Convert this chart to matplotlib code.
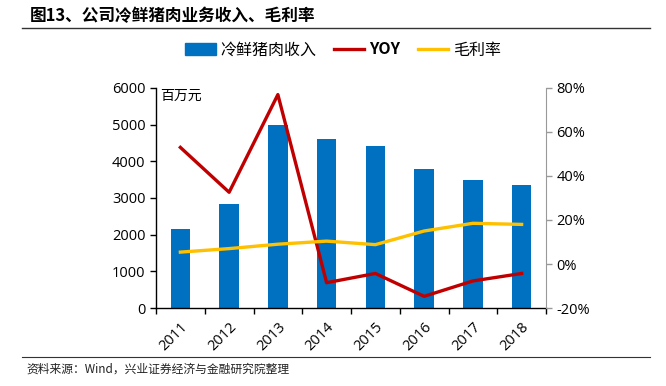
import matplotlib.pyplot as plt
import numpy as np
from matplotlib.lines import Line2D
from matplotlib.patches import Patch

plt.rcParams['font.family'] = ['Noto Sans CJK SC', 'DejaVu Sans']

years = ['2011', '2012', '2013', '2014', '2015', '2016', '2017', '2018']
revenue = [2150, 2850, 5000, 4600, 4420, 3800, 3500, 3350]
yoy = [53, 32.6, 77, -8.5, -4.3, -14.7, -7.7, -4.3]
margin = [5.4, 7.0, 9.0, 10.4, 8.8, 15.0, 18.5, 18.0]

BLUE = '#0070C0'
RED = '#C00000'
YELLOW = '#FFC000'

fig = plt.figure(figsize=(6.66, 3.86), dpi=100)
ax = fig.add_axes([156 / 666, 1 - 308 / 386, 390 / 666, 220 / 386])
ax2 = ax.twinx()

x = np.arange(len(years))
ax.bar(x, revenue, width=0.4, color=BLUE, zorder=2)
ax.set_ylim(0, 6000)
ax.set_xlim(-0.5, len(years) - 0.5)
ax.set_yticks(range(0, 6001, 1000))
ax.set_xticks(x)
ax.set_xticklabels(years, rotation=45, ha='right', rotation_mode='anchor', fontsize=10.5,
                   family='Open Sans')
ax.set_xticks(np.arange(-0.5, len(years)), minor=True)
ax.tick_params(axis='x', which='major', length=0, pad=8)
ax.tick_params(axis='x', which='minor', length=4, direction='out', width=1)
ax.tick_params(axis='y', length=4, width=1, labelsize=10.5)
for lab in ax.get_yticklabels():
    lab.set_family('Open Sans')

ax2.plot(x, yoy, color=RED, lw=2.4, zorder=3)
ax2.plot(x, margin, color=YELLOW, lw=2.4, zorder=3)
ax2.set_ylim(-20, 80)
ax2.set_yticks(range(-20, 81, 20))
ax2.set_yticklabels([f'{v}%' for v in range(-20, 81, 20)], fontsize=10.5, family='Open Sans')
ax2.tick_params(axis='y', length=4, width=1, color='#999999')

for a in (ax, ax2):
    a.spines['top'].set_visible(False)
ax.spines['right'].set_visible(False)
ax2.spines['left'].set_visible(False)
ax2.spines['bottom'].set_visible(False)
ax2.spines['right'].set_color('#999999')
ax.spines['left'].set_linewidth(1)
ax.spines['bottom'].set_linewidth(1)

ax.text(0.01, 0.995, '百万元', transform=ax.transAxes, fontsize=10, va='top', ha='left')

handles = [Patch(color=BLUE), Line2D([], [], color=RED, lw=2.4),
           Line2D([], [], color=YELLOW, lw=2.4)]
labels = ['冷鲜猪肉收入', 'YOY', '毛利率']
leg = fig.legend(handles, labels, loc='center', bbox_to_anchor=(343 / 666, 1 - 50 / 386),
                 ncol=3, frameon=False, fontsize=11.5, handlelength=1.9, columnspacing=1.1,
                 handletextpad=0.3)
leg.get_texts()[1].set_fontweight('bold')

fig.text(30 / 666, 1 - 16 / 386, '图13、公司冷鲜猪肉业务收入、毛利率', fontsize=12,
         fontweight='bold', va='center', ha='left')
fig.add_artist(Line2D([22 / 666, 650 / 666], [1 - 28 / 386] * 2, color='#333333', lw=1))
fig.add_artist(Line2D([22 / 666, 650 / 666], [1 - 357 / 386] * 2, color='#333333', lw=0.8))
fig.text(26 / 666, 1 - 369 / 386, '资料来源：Wind，兴业证券经济与金融研究院整理', fontsize=8.5,
         va='center', ha='left', color='#222222')

fig.savefig('out.png', dpi=100)
